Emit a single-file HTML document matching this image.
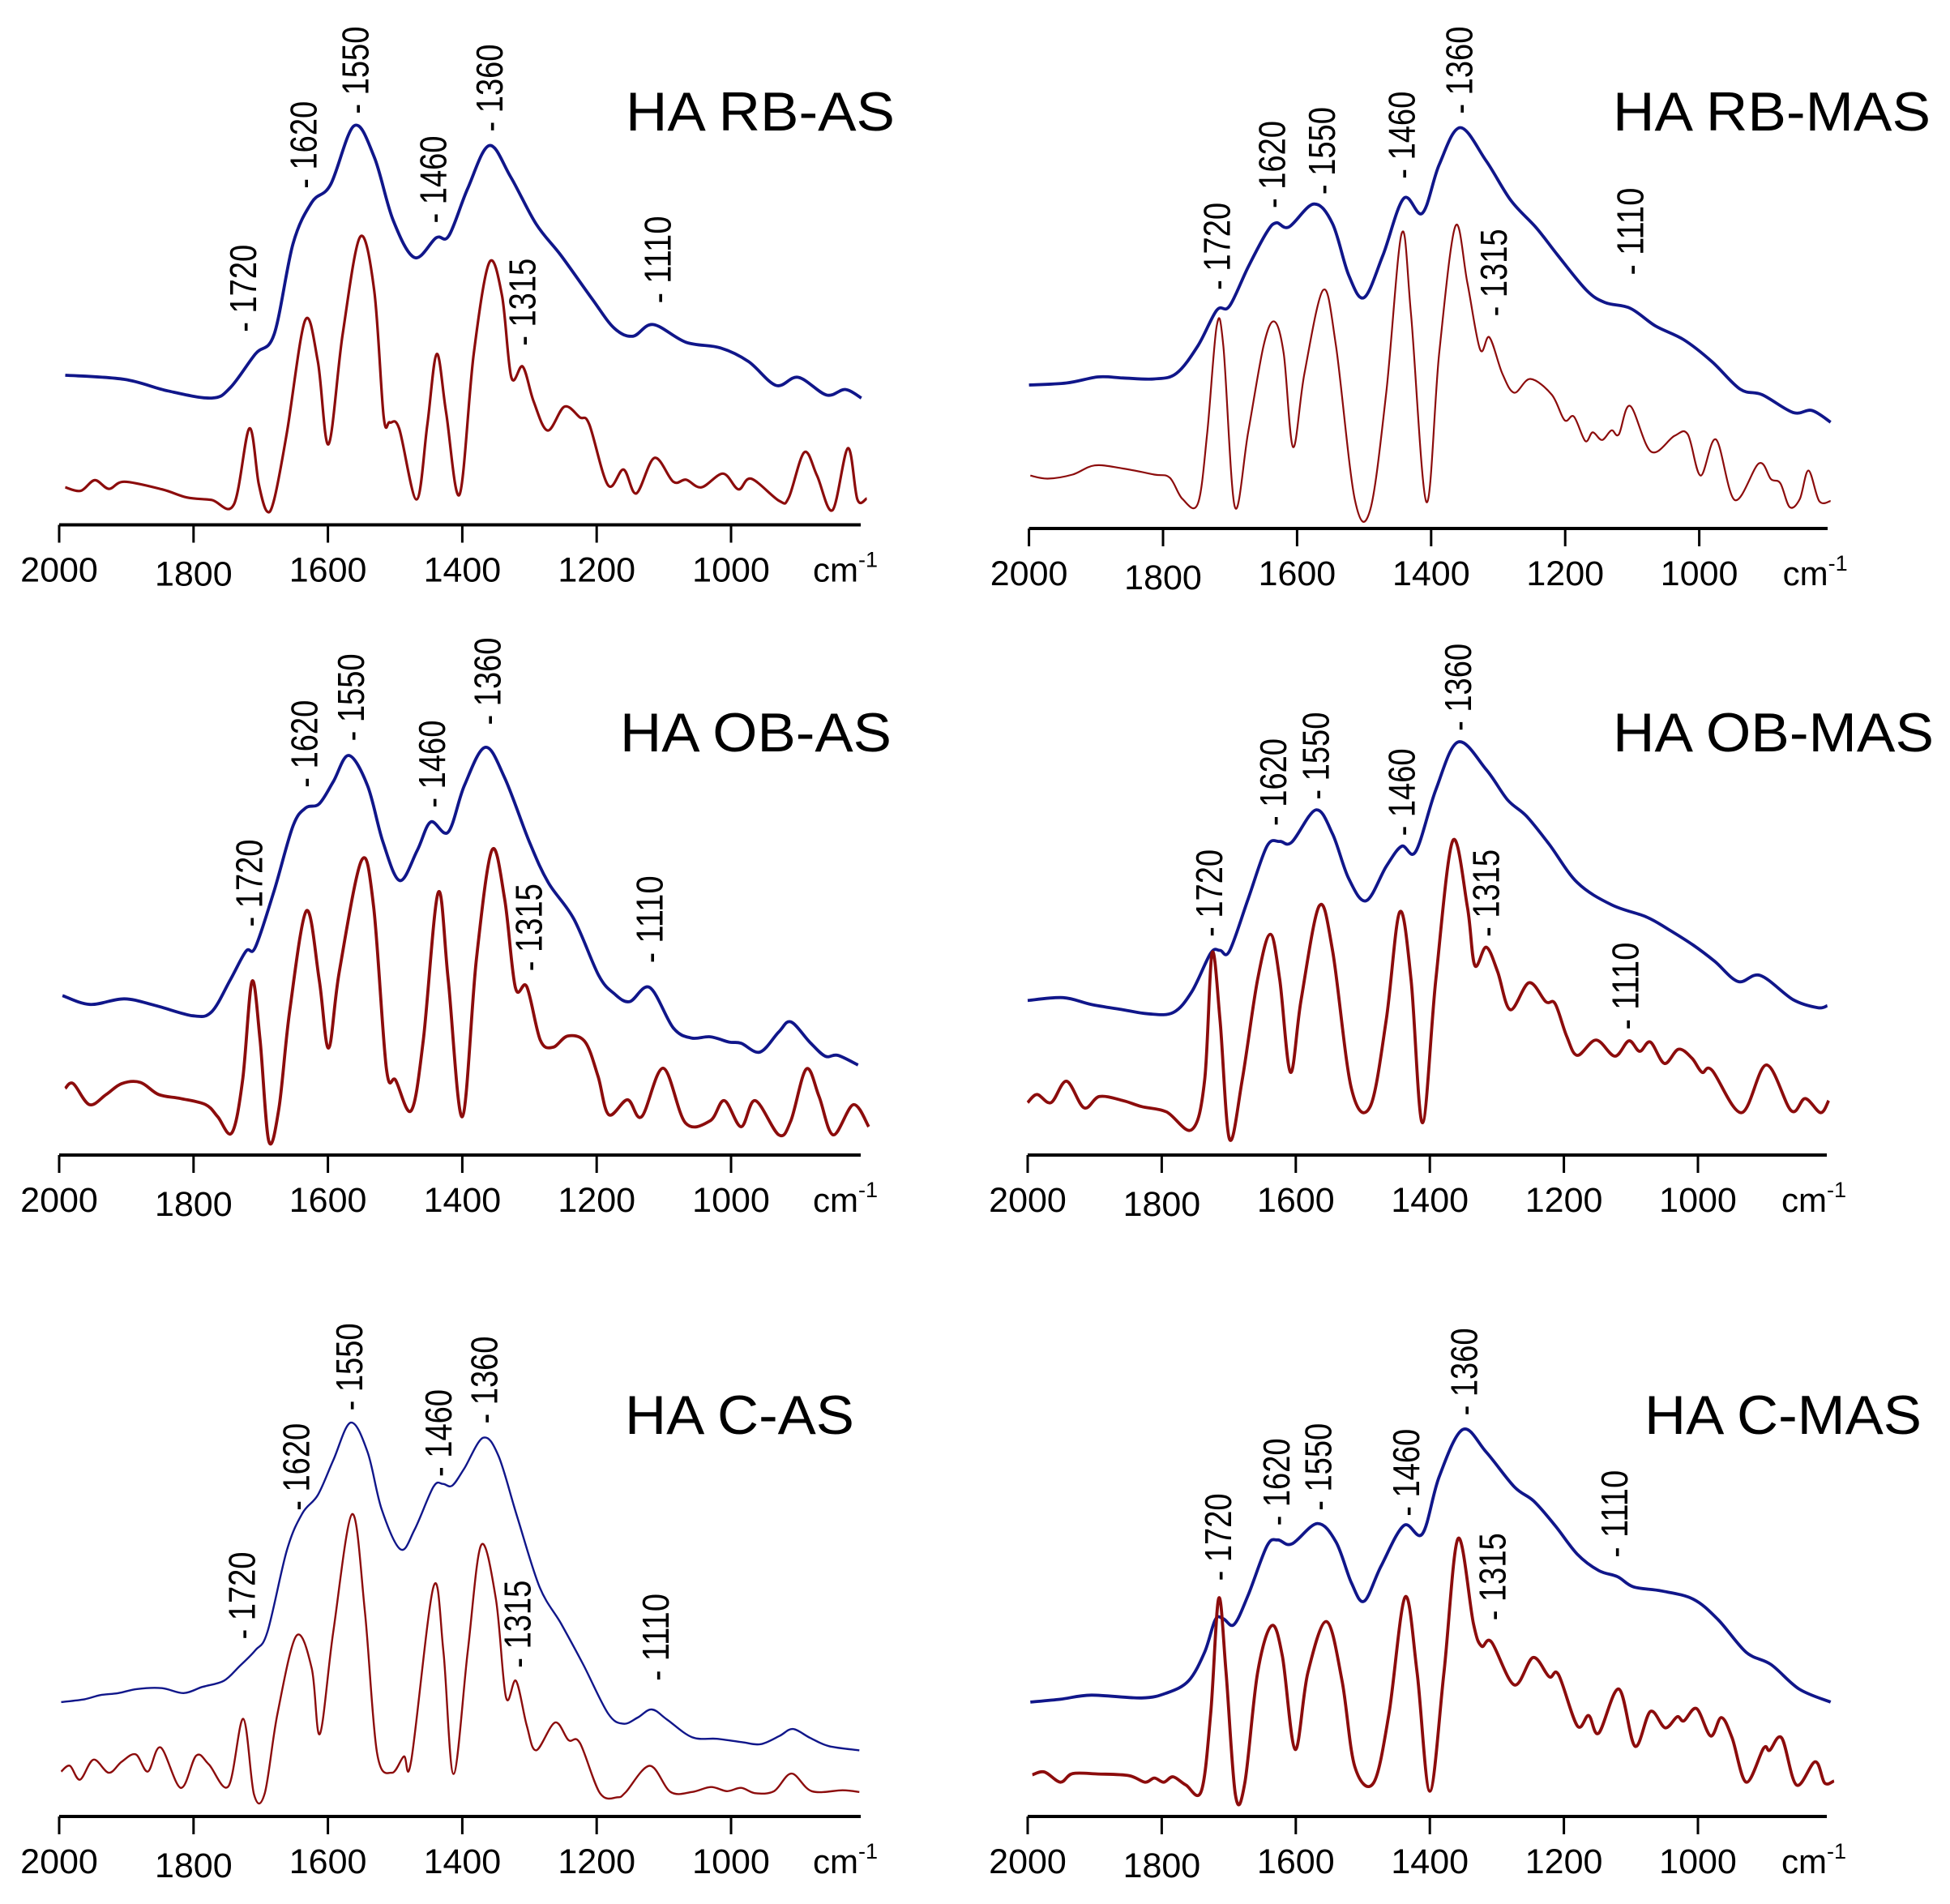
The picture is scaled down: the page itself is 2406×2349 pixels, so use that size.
<!DOCTYPE html>
<html><head><meta charset="utf-8"><style>
html,body{margin:0;padding:0;background:#fff;}
svg{display:block;font-family:"Liberation Sans",Arial,sans-serif;}
</style></head><body>
<svg id="fig" width="2406" height="2349" viewBox="0 0 2406 2349" xmlns="http://www.w3.org/2000/svg"></svg>
<script>
// ---------- DATA (wavenumber cm-1, relative intensity) ----------
const rbAsBlueWn=[1991,1903,1838,1773,1745,1708,1680,1652,1624,1596,1561,1531,1503,1471,1439,1420,1392,1360,1328,1290,1253,1207,1174,1146,1116,1067,1016,974,933,900,858,830,806];
const rbAsBlueI=[295,287,264,250,271,337,376,554,636,671,787,725,601,527,566,570,663,748,686,593,531,446,388,372,395,360,349,322,275,291,256,267,250];
const rbAsRedWn=[1991,1968,1947,1926,1903,1847,1810,1773,1740,1717,1703,1691,1680,1661,1634,1615,1599,1578,1552,1531,1517,1508,1494,1468,1452,1438,1424,1404,1383,1360,1341,1327,1310,1294,1273,1248,1225,1211,1183,1160,1141,1114,1086,1067,1044,1012,989,970,928,914,891,872,849,826,812,798];
const rbAsRedI=[74,67,88,71,85,70,54,49,40,190,81,27,50,182,403,322,159,376,568,461,213,202,190,50,198,337,221,60,337,517,453,291,312,244,186,233,212,198,78,109,62,132,85,89,74,101,70,91,47,54,143,97,29,151,50,52];

const rbMasBlueWn=[2000,1944,1897,1860,1813,1780,1748,1720,1701,1673,1645,1631,1612,1575,1547,1523,1500,1472,1441,1413,1388,1357,1318,1281,1243,1211,1168,1140,1103,1065,1023,981,939,906,860,832,804];
const rbMasBlueI=[282,286,298,296,294,305,359,429,437,514,583,601,593,638,599,498,454,537,649,620,715,788,723,645,591,537,468,444,433,398,371,328,274,263,228,232,209];
const rbMasRedWn=[1998,1972,1935,1902,1860,1813,1790,1771,1748,1734,1720,1710,1693,1673,1650,1634,1620,1606,1589,1561,1542,1514,1491,1467,1444,1430,1407,1388,1364,1346,1327,1313,1294,1276,1252,1220,1201,1187,1170,1159,1145,1131,1120,1103,1072,1037,1017,998,975,947,911,893,879,865,850,837,821,804];
const rbMasRedI=[104,98,106,124,118,106,100,58,49,189,398,359,43,189,359,407,344,160,305,469,359,58,36,267,580,421,52,344,594,483,352,376,305,267,294,263,213,220,172,189,174,193,185,241,151,182,185,104,175,56,128,97,89,42,58,114,54,54];

const obAsBlueWn=[1995,1954,1903,1856,1801,1773,1745,1722,1708,1680,1652,1633,1613,1592,1569,1541,1518,1493,1467,1447,1421,1397,1366,1337,1300,1272,1234,1197,1174,1151,1121,1086,1059,1031,1003,985,957,929,911,883,860,841,811];
const obAsBlueI=[395,373,387,370,345,355,435,505,515,655,815,860,870,925,990,915,775,680,755,825,800,915,1010,935,775,675,585,445,400,380,415,315,290,293,280,277,255,305,330,280,245,247,223];
const obAsRedWn=[1991,1979,1955,1930,1907,1879,1852,1819,1782,1764,1743,1727,1713,1701,1688,1673,1657,1632,1613,1599,1583,1550,1532,1513,1499,1476,1458,1436,1421,1400,1379,1356,1337,1321,1304,1284,1265,1243,1217,1198,1182,1154,1133,1101,1068,1031,1010,985,964,929,911,888,869,848,818,795];
const obAsRedI=[165,177,125,150,177,180,150,140,125,95,55,185,430,285,35,115,355,605,435,265,455,730,615,215,185,110,285,650,435,95,485,755,635,415,417,285,267,295,280,195,100,137,95,215,80,85,135,70,135,50,85,213,145,50,125,70];

const obMasBlueWn=[2000,1947,1905,1858,1821,1783,1755,1727,1713,1699,1671,1643,1624,1606,1570,1545,1521,1495,1465,1442,1421,1391,1358,1316,1284,1256,1222,1180,1129,1077,1045,1007,975,940,907,858,821,807];
const obMasBlueI=[383,390,373,360,350,353,405,500,507,505,635,765,777,775,855,795,685,630,715,765,752,905,1023,955,880,840,770,675,620,590,560,520,480,430,445,385,365,370];
const obMasRedWn=[2000,1986,1965,1942,1916,1893,1858,1830,1793,1755,1736,1725,1713,1699,1680,1657,1638,1624,1608,1592,1565,1545,1517,1489,1465,1445,1428,1411,1391,1366,1344,1333,1316,1299,1280,1252,1227,1213,1196,1180,1152,1124,1103,1087,1071,1050,1029,1009,994,979,935,898,861,840,817,805];
const obMasRedI=[130,150,130,183,117,145,135,120,107,63,185,500,335,40,185,435,547,435,205,385,617,505,165,120,335,602,435,80,435,778,615,470,515,455,360,427,380,375,295,247,285,245,283,257,280,227,262,240,205,210,105,223,110,140,105,135];

const cAsBlueWn=[1997,1962,1939,1912,1884,1847,1815,1787,1755,1732,1708,1690,1661,1638,1615,1592,1566,1541,1520,1492,1471,1443,1429,1415,1397,1369,1346,1318,1285,1253,1220,1183,1160,1139,1118,1095,1058,1021,984,956,928,908,882,854,809];
const cAsBlueI=[280,287,297,302,312,314,302,317,332,367,407,452,652,742,787,872,964,892,752,654,702,807,814,810,852,927,882,732,562,472,372,252,227,242,262,237,194,190,182,177,197,214,192,172,162];
const cAsRedWn=[1997,1984,1969,1949,1926,1907,1886,1868,1849,1819,1796,1777,1748,1726,1710,1694,1675,1647,1624,1612,1592,1564,1545,1527,1505,1487,1476,1443,1428,1413,1392,1372,1350,1335,1320,1304,1290,1262,1242,1225,1195,1169,1157,1121,1090,1058,1030,1006,985,964,936,910,880,834,809];
const cAsRedI=[110,124,90,139,107,134,152,110,169,70,149,127,74,239,54,57,252,442,362,202,452,740,502,157,107,147,137,562,402,104,402,664,532,292,332,222,162,230,187,180,57,47,59,124,60,60,72,62,70,57,62,105,62,64,60];

const cMasBlueWn=[1996,1951,1905,1830,1793,1760,1736,1720,1708,1692,1671,1643,1627,1606,1568,1540,1517,1498,1473,1439,1411,1386,1351,1316,1274,1245,1213,1180,1148,1120,1096,1054,1007,970,928,891,849,802];
const cMasBlueI=[280,287,297,290,302,332,402,482,484,470,542,662,677,667,717,672,572,527,612,712,692,832,947,892,807,772,712,642,602,587,562,552,532,482,402,372,312,280];
const cMasRedWn=[1993,1975,1951,1933,1895,1849,1825,1811,1797,1783,1764,1741,1727,1715,1704,1690,1676,1657,1636,1620,1601,1582,1554,1531,1512,1484,1461,1437,1419,1400,1379,1358,1335,1323,1308,1274,1246,1222,1208,1180,1163,1148,1118,1094,1071,1049,1031,1021,1002,981,965,949,928,902,893,875,853,825,811,797];
const cMasRedI=[102,109,84,105,104,100,84,94,84,97,77,62,252,534,352,52,82,352,467,392,164,352,477,332,122,82,252,537,352,62,352,680,472,417,427,322,389,342,347,222,247,204,312,172,257,217,244,234,264,197,242,192,84,167,162,192,77,134,82,87];

const tickValues=[2000,1800,1600,1400,1200,1000];
const peakLabels=["1720","1620","1550","1460","1360","1315","1110"];

// ---------- LAYOUT ----------
const panels=[
 {name:"rb-as",title:"HA RB-AS",x0:73,p200:165.8,ay:647.5,ys:0.6256,axEnd:1062,tx:772,ty:161,tw:332,bw:3.8,rw:3.2,
  bWn:rbAsBlueWn,bI:rbAsBlueI,rWn:rbAsRedWn,rI:rbAsRedI,zx:0,zy:0,fx:1.3,fy:2.062,
  lab:[[390,845],[487,480],[570,290],[695,568],[785,335],[838,880],[1055,772]]},
 {name:"rb-mas",title:"HA RB-MAS",x0:1269.6,p200:165.4,ay:652,ys:0.6275,axEnd:2255,tx:1990,ty:161,tw:392,bw:3.8,rw:2.2,
  bWn:rbMasBlueWn,bI:rbMasBlueI,rWn:rbMasRedWn,rI:rbMasRedI,zx:1200,zy:0,fx:1.294,fy:2.062,
  lab:[[390,738],[478,530],[558,495],[685,455],[777,290],[832,805],[1050,700]]},
 {name:"ob-as",title:"HA OB-AS",x0:73,p200:165.8,ay:1425,ys:0.498,axEnd:1062,tx:765,ty:927,tw:335,bw:3.8,rw:3.8,
  bWn:obAsBlueWn,bI:obAsBlueI,rWn:obAsRedWn,rI:obAsRedI,zx:0,zy:760,fx:1.3,fy:2.008,
  lab:[[400,770],[488,425],[563,310],[693,475],[782,270],[848,880],[1042,860]]},
 {name:"ob-mas",title:"HA OB-MAS",x0:1268,p200:165.4,ay:1425,ys:0.498,axEnd:2254,tx:1990,ty:927,tw:396,bw:3.8,rw:3.8,
  bWn:obMasBlueWn,bI:obMasBlueI,rWn:obMasRedWn,rI:obMasRedI,zx:1200,zy:760,fx:1.294,fy:2.008,
  lab:[[378,795],[480,520],[548,455],[685,545],[775,285],[820,795],[1042,1025]]},
 {name:"c-as",title:"HA C-AS",x0:73,p200:165.8,ay:2241,ys:0.504,axEnd:1062,tx:771,ty:1769,tw:283,bw:2.4,rw:2.4,
  bWn:cAsBlueWn,bI:cAsBlueI,rWn:cAsRedWn,rI:cAsRedI,zx:0,zy:1560,fx:1.3,fy:1.985,
  lab:[[388,918],[475,603],[560,358],[703,520],[777,390],[830,988],[1052,1020]]},
 {name:"c-mas",title:"HA C-MAS",x0:1268,p200:165.4,ay:2241,ys:0.504,axEnd:2254,tx:2029,ty:1769,tw:342,bw:3.8,rw:3.8,
  bWn:cMasBlueWn,bI:cMasBlueI,rWn:cMasRedWn,rI:cMasRedI,zx:1200,zy:1560,fx:1.294,fy:1.985,
  lab:[[392,775],[485,640],[552,603],[692,617],[785,370],[830,872],[1025,718]]}
];

const NS="http://www.w3.org/2000/svg";
const svg=document.getElementById('fig');
function mk(tag,attrs,parent){const e=document.createElementNS(NS,tag);for(const k in attrs)e.setAttribute(k,attrs[k]);(parent||svg).appendChild(e);return e;}

function smoothPath(pts){
  let d="M"+pts[0][0].toFixed(1)+","+pts[0][1].toFixed(1);
  for(let i=0;i<pts.length-1;i++){
    const p0=pts[i-1]||pts[i],p1=pts[i],p2=pts[i+1],p3=pts[i+2]||p2;
    const c1x=p1[0]+(p2[0]-p0[0])/6,c1y=p1[1]+(p2[1]-p0[1])/6;
    const c2x=p2[0]-(p3[0]-p1[0])/6,c2y=p2[1]-(p3[1]-p1[1])/6;
    d+=" C"+c1x.toFixed(1)+","+c1y.toFixed(1)+" "+c2x.toFixed(1)+","+c2y.toFixed(1)+" "+p2[0].toFixed(1)+","+p2[1].toFixed(1);
  }
  return d;
}

panels.forEach(p=>{
  const g=mk('g',{});
  
  
  const xs=wn=>p.x0+(2000-wn)/200*p.p200;
  const ys=v=>p.ay-v*p.ys;
  // axis
  const ax=mk('line',{x1:p.x0,y1:p.ay,x2:p.axEnd,y2:p.ay,stroke:'#000','stroke-width':4},g);
  
  
  tickValues.forEach(t=>{
    const x=xs(t);
    const tk=mk('line',{x1:x,y1:p.ay,x2:x,y2:p.ay+22,stroke:'#000','stroke-width':3},g);
    
    
    const tl=mk('text',{x:x,y:p.ay+70+(t===1800?5:0),'text-anchor':'middle','font-size':43,fill:'#000'},g);
    tl.textContent=String(t);
    
    
  });
  const cm=mk('text',{x:p.x0+930,y:p.ay+70,'font-size':42,fill:'#000'},g);
  cm.textContent="cm";
  
  
  const sup=mk('tspan',{dy:-18,'font-size':27},cm);
  sup.textContent="-1";
  // curves
  const bp=mk('path',{d:smoothPath(p.bWn.map((w,i)=>[xs(w),ys(p.bI[i])])),fill:'none',stroke:'#10168a','stroke-width':p.bw,'stroke-linejoin':'round'},g);
  
  
  const rp=mk('path',{d:smoothPath(p.rWn.map((w,i)=>[xs(w),ys(p.rI[i])])),fill:'none',stroke:'#8c0c0c','stroke-width':p.rw,'stroke-linejoin':'round'},g);
  
  
  // title
  const tt=mk('text',{x:p.tx,y:p.ty,'font-size':68,fill:'#000',textLength:p.tw,lengthAdjust:'spacingAndGlyphs'},g);
  tt.textContent=p.title;
  
  
  // peak labels
  p.lab.forEach((l,i)=>{
    const x=p.zx+l[0]/p.fx, y=p.zy+l[1]/p.fy;
    const t=mk('text',{transform:'translate('+x.toFixed(1)+','+y.toFixed(1)+') rotate(-90)','font-size':46,fill:'#000','dominant-baseline':'central',textLength:108,lengthAdjust:'spacingAndGlyphs'},g);
    t.textContent="- "+peakLabels[i];
    
    
  });
});
</script>
</body></html>
